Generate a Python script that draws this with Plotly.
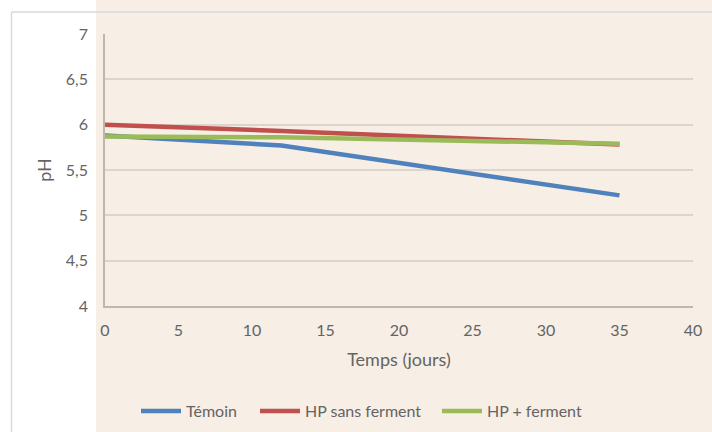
import plotly.graph_objects as go

jours = [0, 12, 35]
temoin = [5.88, 5.77, 5.22]
hp_sans = [6.00, 5.93, 5.78]
hp_plus = [5.87, 5.86, 5.79]

series_names = ["Témoin", "HP sans ferment", "HP + ferment"]
series_colors = ["#4F81BD", "#C0504D", "#9BBB59"]

y_ticks = [4, 4.5, 5, 5.5, 6, 6.5, 7]
y_ticktext = ["4", "4,5", "5", "5,5", "6", "6,5", "7"]
x_ticks = [0, 5, 10, 15, 20, 25, 30, 35, 40]

FONT = "Lato"
TXT = "#646464"
BEIGE = "#F7EEE5"

W, H = 712, 432
L, R, T, B = 105, 19, 34, 126
pw, ph = W - L - R, H - T - B

def px(x):
    return (x - L) / pw

def py(y):
    return (H - B - y) / ph

legend_ids = ["legend", "legend2", "legend3"]
legend_left = [136, 255, 437]

fig = go.Figure()
for name, ys, col, lg in zip(series_names, [temoin, hp_sans, hp_plus], series_colors, legend_ids):
    fig.add_trace(go.Scatter(x=jours, y=ys, mode="lines", name=name, legend=lg,
                             line=dict(color=col, width=4.5)))

shapes = [
    dict(type="rect", xref="paper", yref="paper", x0=px(96), x1=px(W + 5),
         y0=py(H + 5), y1=py(-5), fillcolor=BEIGE, line=dict(width=0), layer="below"),
    dict(type="line", xref="paper", yref="paper", x0=px(11.5), x1=px(W + 5),
         y0=py(12), y1=py(12), line=dict(color="#D9D9D9", width=1.5), layer="below"),
    dict(type="line", xref="paper", yref="paper", x0=px(11.5), x1=px(11.5),
         y0=py(12), y1=py(H + 5), line=dict(color="#D9D9D9", width=1.5), layer="below"),
]

legend_layout = {}
for lg, lx in zip(legend_ids, legend_left):
    legend_layout[lg] = dict(orientation="h", xref="container", yref="container",
                             x=lx / W, xanchor="left", y=1 - 411 / H, yanchor="middle",
                             itemwidth=40,
                             font=dict(size=16, color=TXT), bgcolor="rgba(0,0,0,0)")

fig.update_layout(
    width=W, height=H,
    margin=dict(l=L, r=R, t=T, b=B, autoexpand=False),
    paper_bgcolor="white",
    plot_bgcolor="rgba(0,0,0,0)",
    font=dict(family=FONT, color=TXT, size=16),
    shapes=shapes,
    showlegend=True,
    xaxis=dict(range=[0, 40], tickvals=x_ticks, showgrid=False, zeroline=False,
               showline=True, linecolor="#BFB7AE", linewidth=1.5, ticks="",
               ticklabelstandoff=9, tickfont=dict(size=16, color=TXT),
               title=dict(text="Temps (jours)", font=dict(size=18, color=TXT), standoff=15),
               fixedrange=True),
    yaxis=dict(range=[4, 7], tickvals=y_ticks, ticktext=y_ticktext, showgrid=True,
               gridcolor="#DDD5CD", gridwidth=1.5, zeroline=False,
               showline=True, linecolor="#BFB7AE", linewidth=1.5, ticks="",
               ticklabelstandoff=12, tickfont=dict(size=16, color=TXT),
               title=dict(text="pH", font=dict(size=18, color=TXT), standoff=10),
               fixedrange=True),
    **legend_layout,
)

fig.write_html("out.html")
